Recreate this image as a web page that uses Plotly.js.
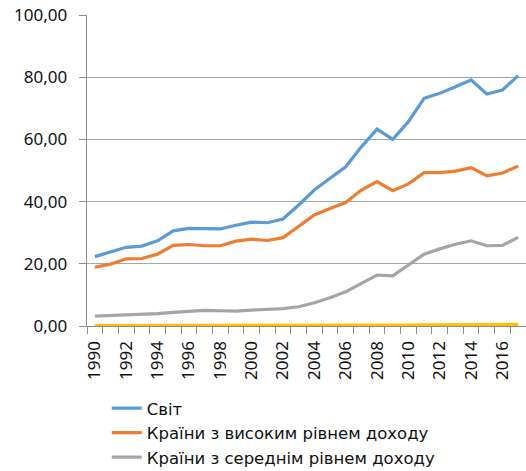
<!DOCTYPE html>
<html>
<head>
<meta charset="utf-8">
<script src="https://cdn.plot.ly/plotly-3.0.1.min.js"></script>
<style>html,body{margin:0;padding:0;background:#fff}#chart{width:526px;height:471px}</style>
</head>
<body>
<div id="chart"></div>
<script>
const years = [1990,1991,1992,1993,1994,1995,1996,1997,1998,1999,2000,2001,2002,2003,2004,2005,2006,2007,2008,2009,2010,2011,2012,2013,2014,2015,2016,2017];
const tickYears = [1990,1992,1994,1996,1998,2000,2002,2004,2006,2008,2010,2012,2014,2016];
const seriesNames = ["Світ","Країни з високим рівнем доходу","Країни з середнім рівнем доходу","Країни з низьким рівнем доходу"];
const world = [22.3,23.9,25.3,25.7,27.4,30.6,31.4,31.3,31.2,32.4,33.4,33.2,34.4,38.9,43.7,47.5,51.2,57.6,63.3,60.0,65.7,73.2,74.8,76.9,79.1,74.6,75.9,80.5];
const highIncome = [18.9,19.9,21.6,21.7,23.1,25.9,26.2,25.8,25.8,27.3,27.9,27.5,28.4,32.2,35.7,37.8,39.7,43.7,46.4,43.5,45.7,49.3,49.3,49.8,50.9,48.3,49.2,51.4];
const middleIncome = [3.2,3.4,3.4,3.6,4.0,4.4,4.8,5.0,4.9,4.8,5.1,5.4,5.6,6.2,7.5,9.1,11.0,13.7,16.4,16.1,19.6,23.1,24.8,26.3,27.4,25.8,25.9,28.5];
const lowIncome = [0.1,0.1,0.1,0.1,0.1,0.1,0.1,0.1,0.1,0.1,0.1,0.1,0.2,0.2,0.2,0.2,0.2,0.3,0.3,0.3,0.3,0.4,0.4,0.4,0.4,0.4,0.5,0.5];
const colors = ["#5B9BD5","#ED7D31","#A5A5A5","#FFC000"];
const allSeries = [world, highIncome, middleIncome, lowIncome];

const boundaries = [];
for (let i = 0; i <= years.length; i++) boundaries.push(years[0] - 0.5 + i);

const traces = allSeries.map((s, i) => ({
  x: years, y: s, name: seriesNames[i], type: 'scatter', mode: 'lines',
  line: {color: colors[i], width: 3.2},
  showlegend: i < 3
}));
const font = {family: 'Noto Sans, sans-serif', size: 17, color: '#111'};
Plotly.newPlot('chart', traces, {
  width: 526, height: 471,
  margin: {l: 87, r: 0, t: 15, b: 145, autoexpand: false},
  paper_bgcolor: '#fff', plot_bgcolor: '#fff',
  separators: ', ',
  font: font,
  showlegend: true,
  legend: {orientation: 'v', x: 0.045, xanchor: 'left', y: -0.209, yanchor: 'top',
           font: {family: 'DejaVu Sans, sans-serif', size: 16.5, color: '#111'},
           tracegroupgap: 0, itemwidth: 30},
  xaxis: {
    type: 'linear', range: [1989.5, 2017.5], fixedrange: true, automargin: false,
    tickmode: 'array', tickvals: tickYears, ticktext: tickYears.map(String),
    tickangle: -90, ticks: '', showgrid: false, zeroline: false,
    showline: true, linecolor: '#8c8c8c', linewidth: 1.3,
    ticklabelstandoff: 7,
    tickfont: font,
    minor: {tickmode: 'array', tickvals: boundaries, ticks: 'outside', ticklen: 7, tickcolor: '#8c8c8c', tickwidth: 1, showgrid: false}
  },
  yaxis: {
    range: [0, 100], fixedrange: true, automargin: false, tickmode: 'linear', tick0: 0, dtick: 20,
    tickformat: '.2f', ticks: 'outside', ticklen: 7, tickcolor: '#8c8c8c',
    showgrid: true, gridcolor: '#a6a6a6', gridwidth: 1.2,
    zeroline: false, showline: true, linecolor: '#8c8c8c', linewidth: 1.3,
    ticklabelstandoff: 8, tickfont: font
  }
}, {displayModeBar: false, staticPlot: true});
</script>
</body>
</html>
